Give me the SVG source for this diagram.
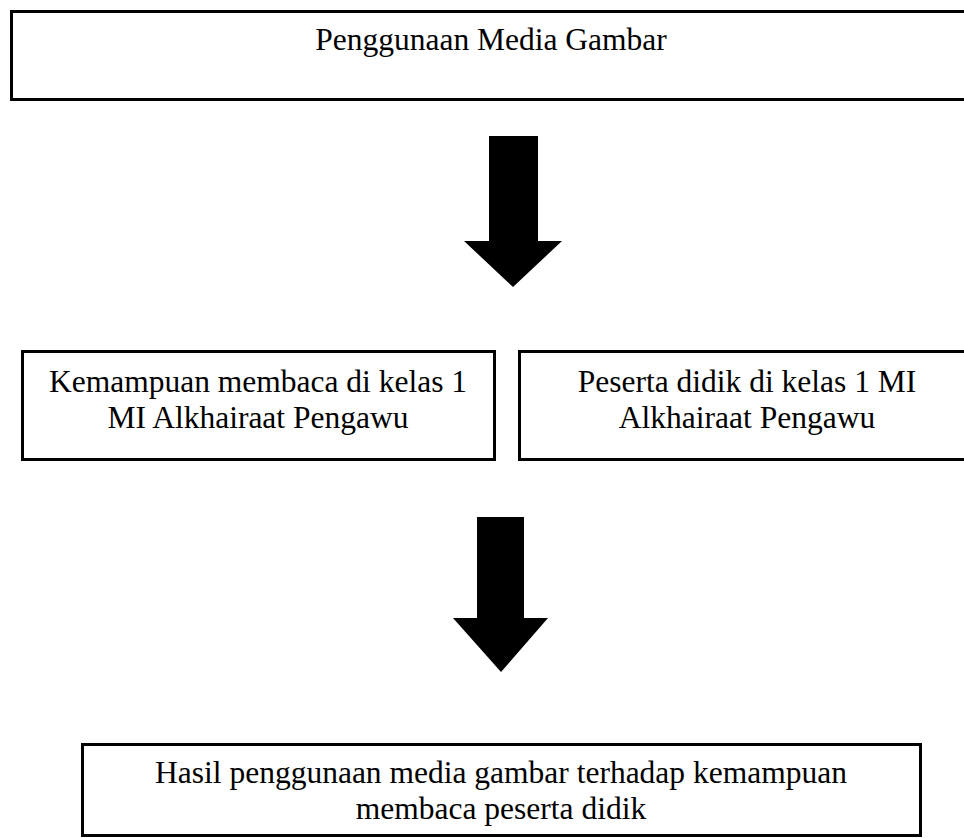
<svg xmlns="http://www.w3.org/2000/svg" width="964" height="838" viewBox="0 0 964 838">
<style>
.box{fill:#fff;stroke:#000;stroke-width:3}
.t{font-family:"Liberation Serif","Times New Roman",serif;font-size:31.5px;fill:#000;text-anchor:middle}
.arr{fill:#000;stroke:none}
</style>
<rect width="964" height="838" fill="#fff"/>
<g id="node-top">
<rect class="box" x="11.5" y="11.5" width="962" height="88"/>
<text class="t" x="491" y="50">Penggunaan Media Gambar</text>
</g>
<g id="node-left">
<rect class="box" x="22.5" y="351.5" width="472" height="108"/>
<text class="t" x="258" y="392">Kemampuan membaca di kelas 1</text>
<text class="t" x="258" y="428">MI Alkhairaat Pengawu</text>
</g>
<g id="node-right">
<rect class="box" x="519.5" y="351.5" width="460" height="108"/>
<text class="t" x="747" y="392">Peserta didik di kelas 1 MI</text>
<text class="t" x="747" y="428">Alkhairaat Pengawu</text>
</g>
<g id="node-bottom">
<rect class="box" x="82.5" y="744.5" width="838" height="91"/>
<text class="t" x="501" y="783">Hasil penggunaan media gambar terhadap kemampuan</text>
<text class="t" x="501" y="819">membaca peserta didik</text>
</g>
<g id="connectors">
<polygon class="arr" points="489,136 538,136 538,241 562,241 513,287 464,241 489,241"/>
<polygon class="arr" points="477,517 524,517 524,618 548,618 501,672 453,618 477,618"/>
</g>
</svg>
